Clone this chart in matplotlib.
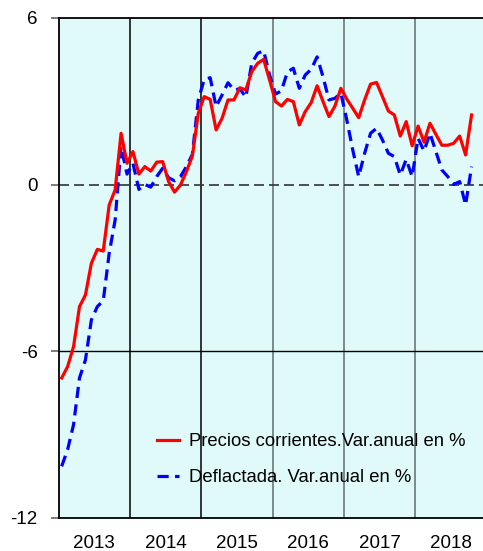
import numpy as np
import matplotlib
matplotlib.use("Agg")
import matplotlib.pyplot as plt

plt.rcParams['font.family'] = ['Liberation Sans', 'DejaVu Sans']

years = ["2013", "2014", "2015", "2016", "2017", "2018"]

# monthly values, Jan 2013 - Oct 2018
corrientes = [
    -6.96, -6.55, -5.83, -4.39, -3.97, -2.83, -2.33, -2.39, -0.73, -0.19, 1.85, 0.77,
    1.19, 0.38, 0.65, 0.49, 0.81, 0.83, 0.11, -0.27, -0.01, 0.47, 1.03, 2.57,
    3.17, 3.07, 1.97, 2.39, 3.05, 3.05, 3.49, 3.41, 4.07, 4.37, 4.51, 3.77,
    2.99, 2.83, 3.07, 2.99, 2.15, 2.63, 2.95, 3.56, 2.99, 2.45, 2.83, 3.47,
    3.08, 2.75, 2.41, 3.05, 3.62, 3.68, 3.17, 2.65, 2.51, 1.75, 2.27, 1.40,
    2.11, 1.53, 2.21, 1.81, 1.42, 1.42, 1.49, 1.75, 1.07, 2.51,
]
deflactada = [
    -10.14, -9.54, -8.64, -6.96, -6.31, -4.87, -4.39, -4.18, -2.47, -1.27, 1.37, 0.38,
    0.77, -0.17, 0.01, -0.09, 0.29, 0.59, 0.25, 0.14, 0.29, 0.65, 1.09, 3.05,
    3.79, 3.85, 2.81, 3.23, 3.67, 3.41, 3.45, 3.15, 4.37, 4.73, 4.82, 3.95,
    3.26, 3.38, 4.06, 4.19, 3.47, 3.95, 4.15, 4.60, 3.88, 3.05, 3.11, 3.29,
    2.33, 1.25, 0.29, 1.13, 1.85, 2.03, 1.61, 1.13, 1.01, 0.35, 0.91, 0.29,
    1.67, 1.21, 1.85, 1.19, 0.53, 0.29, 0.01, 0.11, -0.73, 0.65,
]

x = np.arange(len(corrientes))

fig = plt.figure(figsize=(4.83, 5.51), dpi=100)
ax = fig.add_axes([58.7 / 483, 1 - 518 / 551, (486.4 - 58.7) / 483, 500 / 551])
ax.set_facecolor('#E0FAFA')

ax.set_xlim(-0.5, 71.5)
ax.set_ylim(-12, 6)

# year separators
for k in range(1, 6):
    c = 'black' if k < 3 else '#5f6b6b'
    ax.axvline(12 * k - 0.5, color=c, lw=1.1, zorder=1)
ax.axhline(-6, color='black', lw=1.0, zorder=1)
ax.axhline(0, color='#333333', lw=1.2, ls=(0, (6, 3)), zorder=1)

ax.plot(x, corrientes, color='#FF0000', lw=2.3, zorder=3,
        label='Precios corrientes.Var.anual en %')
ax.plot(x, deflactada, color='#0000FF', lw=2.3, ls=(0, (3.5, 2)), zorder=2,
        label='Deflactada. Var.anual en %')

ax.set_yticks([-12, -6, 0, 6])
ax.set_yticklabels(['-12', '-6', '0', '6'])
ax.set_xticks([5.5 + 12 * k for k in range(6)])
ax.set_xticklabels(years)
ax.tick_params(axis='x', length=0, pad=12, labelsize=13.5)
ax.tick_params(axis='y', length=6, width=1.2, color='#666666', pad=9, labelsize=13.5)

for s in ['left', 'bottom', 'top']:
    ax.spines[s].set_color('black')
    ax.spines[s].set_linewidth(1.3)
ax.spines['right'].set_visible(False)

ax.legend(loc='lower left', bbox_to_anchor=(0.19, 0.03), frameon=False,
          fontsize=13.3, handlelength=1.2, labelspacing=1.05, handletextpad=0.55)

fig.savefig('out.png', dpi=100)
